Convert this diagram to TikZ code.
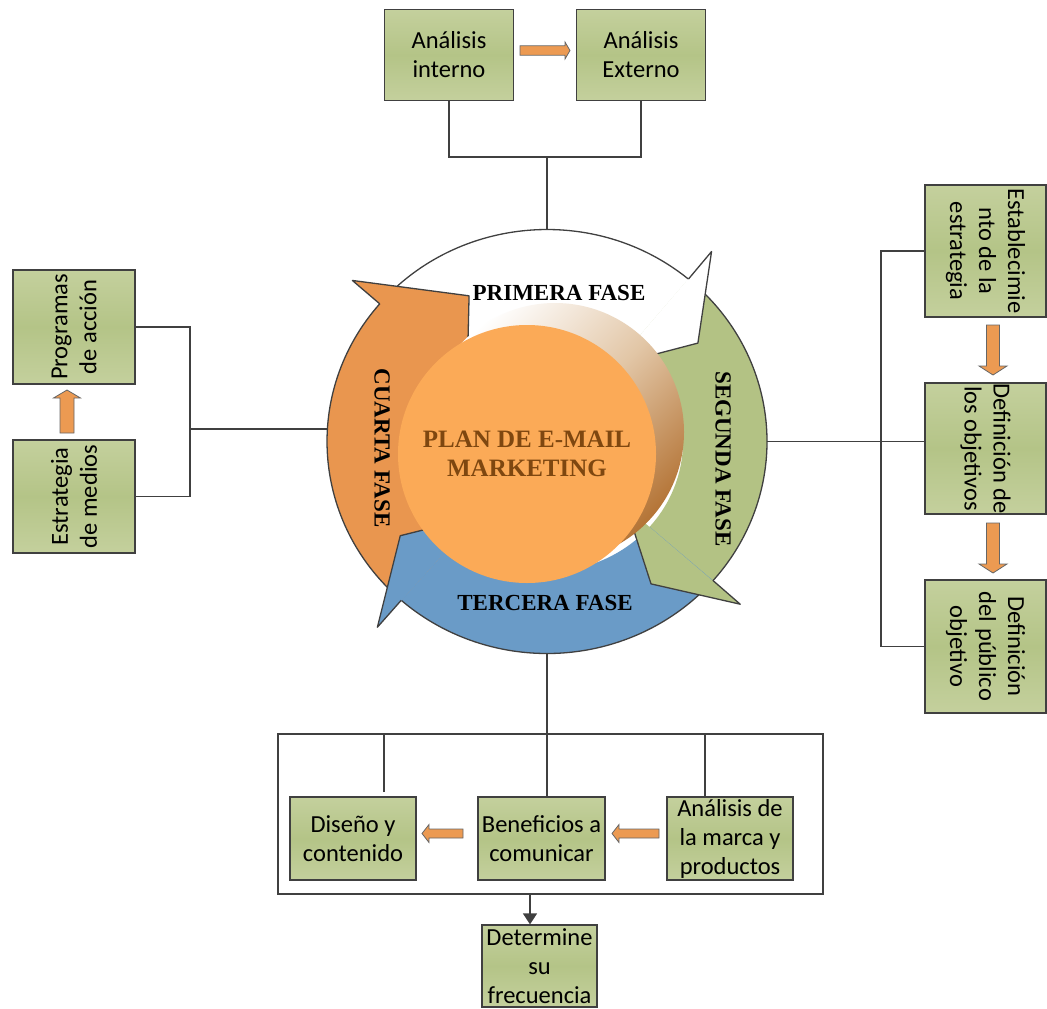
\documentclass[tikz,border=0pt]{standalone}
\usepackage{fontspec}
\setmainfont{Carlito}
\newfontfamily\serifbf{Liberation Serif}
\usetikzlibrary{shapes.geometric,arrows.meta}
\definecolor{lineC}{HTML}{404040}
\definecolor{boxA}{HTML}{C4D09D}
\definecolor{boxB}{HTML}{B4C487}
\definecolor{arrowO}{HTML}{EC9A52}
\definecolor{greenA}{HTML}{B3C284}
\definecolor{blueA}{HTML}{6A9BC7}
\definecolor{orangeA}{HTML}{E9964F}
\definecolor{planC}{HTML}{FBAA57}
\definecolor{planT}{HTML}{7E4710}
\definecolor{brownS}{HTML}{B47436}
\definecolor{tanS}{HTML}{E2C6A6}
\begin{document}
\begin{tikzpicture}[x=1pt,y=-1pt,
  box/.style={draw=lineC, line width=1.2pt, top color=boxA, bottom color=boxA, middle color=boxB, inner sep=0pt, align=center, font=\fontsize{24.5}{29}\selectfont, text=black},
  conn/.style={draw=lineC, line width=1.3pt},
  blk/.style={fill=arrowO, draw=gray!80!black, line width=0.8pt},
  ringline/.style={draw=lineC, line width=1.3pt, line join=round},
  phase/.style={font=\serifbf\bfseries\fontsize{23}{27}\selectfont, inner sep=0pt}
]
\useasboundingbox (0,0) rectangle (1047,1009);

% anchor ellipse for the ring
\node[ellipse, minimum width=440, minimum height=423, inner sep=0pt] (ring) at (547,441.5) {};

% ---- ring of arrows ----
\begin{scope}[shift={(547,441.5)}, yscale=-1]
  % bodies (each one runs a little past its head base, hidden under the head)
  \fill[white] (139.5:220 and 212) arc[start angle=139.5, end angle=47, x radius=220, y radius=212] -- (47:136 and 130) arc[start angle=47, end angle=139.5, x radius=136, y radius=130] -- cycle;
  \fill[greenA] (50:220 and 212) arc[start angle=50, end angle=-44, x radius=220, y radius=212] -- (-44:136 and 130) arc[start angle=-44, end angle=50, x radius=136, y radius=130] -- cycle;
  \fill[blueA] (-41:220 and 212) arc[start angle=-41, end angle=-134.5, x radius=220, y radius=212] -- (-134.5:136 and 130) arc[start angle=-134.5, end angle=-41, x radius=136, y radius=130] -- cycle;
  \fill[orangeA] (-131.5:220 and 212) arc[start angle=-131.5, end angle=-223.5, x radius=220, y radius=212] -- (-223.5:136 and 130) arc[start angle=-223.5, end angle=-131.5, x radius=136, y radius=130] -- cycle;
  \draw[ringline] (139.5:220 and 212) arc[start angle=139.5, end angle=50, x radius=220, y radius=212];
  \draw[ringline] (50:220 and 212) arc[start angle=50, end angle=-41, x radius=220, y radius=212];
  \draw[ringline] (-41:220 and 212) arc[start angle=-41, end angle=-131.5, x radius=220, y radius=212];
  \draw[ringline] (-131.5:220 and 212) arc[start angle=-131.5, end angle=-220.5, x radius=220, y radius=212];
  % heads
  \fill[white] (50:256 and 248) -- (34:182 and 176) -- (50:105 and 100) -- cycle;
  \draw[ringline] (50:220 and 212) -- (50:256 and 248) -- (34:182 and 176) -- (50:105 and 100);
  \fill[greenA] (-41:256 and 248) -- (-54:177 and 176) -- (-41:105 and 100) -- cycle;
  \draw[ringline] (-41:220 and 212) -- (-41:256 and 248) -- (-54:177 and 176) -- (-41:105 and 100);
  \fill[blueA] (-131.5:256 and 248) -- (-147:175 and 173) -- (-131.5:105 and 100) -- cycle;
  \draw[ringline] (-131.5:220 and 212) -- (-131.5:256 and 248) -- (-147:175 and 173) -- (-131.5:105 and 100);
  \fill[orangeA] (139.5:256 and 248) -- (118:166 and 165) -- (139.5:105 and 100) -- cycle;
  \draw[ringline] (139.5:220 and 212) -- (139.5:256 and 248) -- (118:166 and 165) -- (139.5:105 and 100);
\end{scope}

% shaded back circle and centre circle
\shade[top color=white, bottom color=brownS, middle color=tanS, shading angle=45] (555,432) circle[radius=129];
\node[circle, fill=planC, minimum size=258, inner sep=0pt, align=center, text=planT,
      font=\serifbf\bfseries\fontsize{25}{29}\selectfont] (plan) at (527,454) {PLAN DE E-MAIL\\MARKETING};

% phase labels
\node[phase] (f1) at (559,293) {PRIMERA FASE};
\node[phase, rotate=-90] (f2) at (723,459) {SEGUNDA FASE};
\node[phase] (f3) at (545,603) {TERCERA FASE};
\node[phase, rotate=-90] (f4) at (382,448) {CUARTA FASE};

% ---- top boxes ----
\node[box, minimum width=129, minimum height=91] (ai) at (449,55) {Análisis\\interno};
\node[box, minimum width=129, minimum height=91] (ae) at (641,55) {Análisis\\Externo};
\filldraw[blk] (520,45.8) -- (565,45.8) -- (565,42) -- (570,50.5) -- (565,59) -- (565,55.2) -- (520,55.2) -- cycle;
\coordinate (tj) at (547,157);
\draw[conn] (ai.south) |- (tj) -| (ae.south);
\draw[conn] (tj) -- (ring.north);

% ---- left boxes ----
\node[box, rotate=90, minimum width=114, minimum height=122] (prog) at (74,327) {Programas\\de acción};
\node[box, rotate=90, minimum width=113, minimum height=122] (estr) at (74,496.5) {Estrategia\\de medios};
\filldraw[blk] (60,433) -- (60,398) -- (53.5,398) -- (67,390) -- (80.5,398) -- (74,398) -- (74,433) -- cycle;
\coordinate (jl) at (190,429);
\draw[conn] (prog.south) -| (jl) |- (estr.south);
\draw[conn] (jl) -- (jl -| ring.west);

% ---- right boxes ----
\node[box, rotate=-90, minimum width=132, minimum height=121] (est) at (985.5,251) {Establecimie\\nto de la\\estrategia};
\node[box, rotate=-90, minimum width=131, minimum height=121] (def) at (985.5,448.5) {Definición de\\los objetivos};
\node[box, rotate=-90, minimum width=133, minimum height=121] (pub) at (985.5,646.5) {Definición\\del público\\objetivo};
\filldraw[blk] (986.5,325) -- (986.5,366) -- (979,366) -- (993,375) -- (1007,366) -- (999.5,366) -- (999.5,325) -- cycle;
\filldraw[blk] (986.5,523) -- (986.5,564) -- (979,564) -- (993,573) -- (1007,564) -- (999.5,564) -- (999.5,523) -- cycle;
\coordinate (jr) at (881,441.5);
\draw[conn] (est.south) -| (jr) |- (pub.south);
\draw[conn] (ring.east) -- (ring.east -| def.south);

% ---- bottom ----
\node[draw=lineC, line width=1.3pt, minimum width=545, minimum height=160, inner sep=0pt] (frame) at (550.5,814) {};
\node[box, minimum width=126, minimum height=83] (dis) at (353,838.5) {Diseño y\\contenido};
\node[box, minimum width=127, minimum height=83] (ben) at (541.5,838.5) {Beneficios a\\comunicar};
\node[box, minimum width=126, minimum height=83] (anm) at (730,838.5) {Análisis de\\la marca y\\productos};
\node[box, minimum width=115, minimum height=82] (det) at (539.5,966) {Determine\\su\\frecuencia};
\filldraw[blk] (463,829) -- (429,829) -- (429,824.5) -- (422,833.5) -- (429,842.5) -- (429,838) -- (463,838) -- cycle;
\filldraw[blk] (659,829) -- (619,829) -- (619,824.5) -- (612,833.5) -- (619,842.5) -- (619,838) -- (659,838) -- cycle;
\draw[conn] (ring.south) -- (ring.south |- frame.north);
\draw[draw=lineC, line width=2.4pt] (547,707) -- (ring.south |- frame.north);
\coordinate (dtop) at (384,792);
\draw[conn] (dtop) -- (dtop |- frame.north);
\draw[conn] (ben.north -| ring.south) -- (ring.south |- frame.north);
\coordinate (ax) at (705,0);
\draw[conn] (anm.north -| ax) -- (ax |- frame.north);
\coordinate (da) at (530,0);
\draw[conn, -{Triangle[length=11pt, width=14pt]}] (frame.south -| da) -- (det.north -| da);
\end{tikzpicture}
\end{document}
